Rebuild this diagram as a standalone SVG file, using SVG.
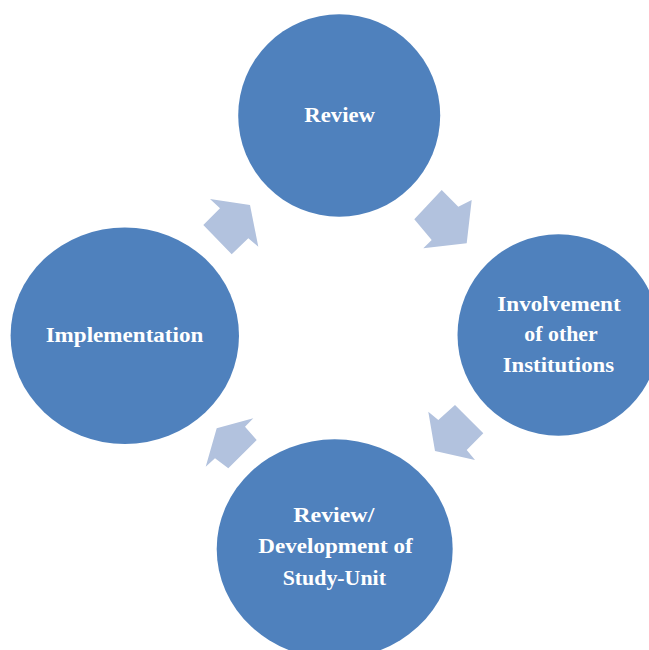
<svg xmlns="http://www.w3.org/2000/svg" width="649" height="650" viewBox="0 0 649 650">
  <style>
    .node { fill: #4F81BD; }
    .label { fill: #FFFFFF; font-family: "Liberation Serif", "DejaVu Serif", serif; font-weight: bold; font-size: 21px; text-anchor: middle; }
    .arrow { fill: #B2C2DE; }
  </style>
  <rect x="0" y="0" width="649" height="650" fill="#FFFFFF"/>

  <!-- cycle arrows between stages -->
  <g id="connectors">
    <polygon class="arrow" points="210,199 220,208.3 203.3,225 231.7,254.3 248.3,238.3 258.3,246.7 250,205"/>
    <polygon class="arrow" points="441.7,190 458.3,206.7 471.7,200 466.7,243.3 423.3,248.3 431.7,240 414.3,219.3"/>
    <polygon class="arrow" points="455,405 483.3,433.3 466.7,450 475,460 435,451 428.3,411.7 438.3,420"/>
    <polygon class="arrow" points="253.3,418.3 245,426.7 256.7,440 228.3,468.3 215,458.3 205.7,466.7 216.7,428.3"/>
  </g>

  <g id="review">
    <ellipse class="node" cx="339.2" cy="115.5" rx="101" ry="101.2"/>
    <text class="label" x="339.7" y="121.7" textLength="70.7" lengthAdjust="spacingAndGlyphs">Review</text>
  </g>

  <g id="involvement">
    <ellipse class="node" cx="558.5" cy="335" rx="101" ry="100.7"/>
    <text class="label" x="559" y="310.7" textLength="123.3" lengthAdjust="spacingAndGlyphs">Involvement</text>
    <text class="label" x="561" y="341" textLength="73.3" lengthAdjust="spacingAndGlyphs">of other</text>
    <text class="label" x="558.4" y="371.7" textLength="111.3" lengthAdjust="spacingAndGlyphs">Institutions</text>
  </g>

  <g id="development">
    <ellipse class="node" cx="334.7" cy="549" rx="118" ry="109.7"/>
    <text class="label" x="333.8" y="521.7" textLength="81" lengthAdjust="spacingAndGlyphs">Review/</text>
    <text class="label" x="335.5" y="553.3" textLength="154.3" lengthAdjust="spacingAndGlyphs">Development of</text>
    <text class="label" x="334.3" y="585" textLength="103.3" lengthAdjust="spacingAndGlyphs">Study-Unit</text>
  </g>

  <g id="implementation">
    <ellipse class="node" cx="124.8" cy="335.7" rx="114.2" ry="108.3"/>
    <text class="label" x="124.5" y="342.3" textLength="157.7" lengthAdjust="spacingAndGlyphs">Implementation</text>
  </g>
</svg>
